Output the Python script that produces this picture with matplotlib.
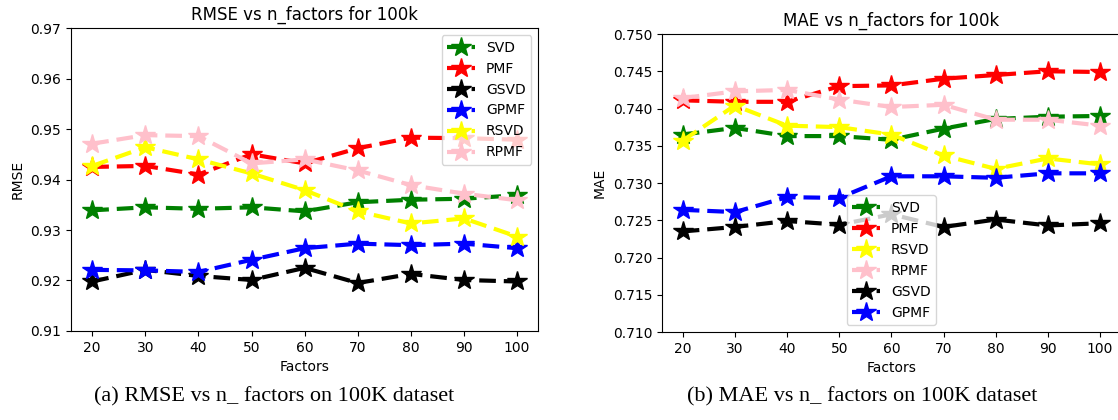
import matplotlib
import matplotlib.pyplot as plt

matplotlib.use("Agg")

factors = [20, 30, 40, 50, 60, 70, 80, 90, 100]

# RMSE on 100k
rmse_svd = [0.9339, 0.9345, 0.9342, 0.9345, 0.9337, 0.9355, 0.9360, 0.9362, 0.9369]
rmse_pmf = [0.9425, 0.9427, 0.9410, 0.9450, 0.9432, 0.9462, 0.9483, 0.9482, 0.9479]
rmse_gsvd = [0.9198, 0.9221, 0.9209, 0.9201, 0.9225, 0.9195, 0.9213, 0.9201, 0.9198]
rmse_gpmf = [0.9221, 0.9220, 0.9217, 0.9241, 0.9264, 0.9273, 0.9270, 0.9273, 0.9264]
rmse_rsvd = [0.9427, 0.9464, 0.9440, 0.9412, 0.9379, 0.9337, 0.9313, 0.9323, 0.9287]
rmse_rpmf = [0.9471, 0.9488, 0.9486, 0.9432, 0.9440, 0.9418, 0.9389, 0.9372, 0.9359]

# MAE on 100k
mae_svd = [0.7365, 0.7374, 0.7363, 0.7363, 0.7358, 0.7373, 0.7386, 0.7389, 0.7390]
mae_pmf = [0.7411, 0.7409, 0.7409, 0.7430, 0.7431, 0.7440, 0.7445, 0.7450, 0.7449]
mae_rsvd = [0.7357, 0.7404, 0.7377, 0.7375, 0.7365, 0.7337, 0.7319, 0.7333, 0.7325]
mae_rpmf = [0.7414, 0.7423, 0.7425, 0.7412, 0.7402, 0.7405, 0.7385, 0.7385, 0.7377]
mae_gsvd = [0.7235, 0.7241, 0.7249, 0.7244, 0.7258, 0.7241, 0.7251, 0.7243, 0.7246]
mae_gpmf = [0.7264, 0.7261, 0.7281, 0.7280, 0.7309, 0.7309, 0.7307, 0.7313, 0.7313]

rmse_series = [
    ("SVD", rmse_svd, "green"),
    ("PMF", rmse_pmf, "red"),
    ("GSVD", rmse_gsvd, "black"),
    ("GPMF", rmse_gpmf, "blue"),
    ("RSVD", rmse_rsvd, "yellow"),
    ("RPMF", rmse_rpmf, "pink"),
]
mae_series = [
    ("SVD", mae_svd, "green"),
    ("PMF", mae_pmf, "red"),
    ("RSVD", mae_rsvd, "yellow"),
    ("RPMF", mae_rpmf, "pink"),
    ("GSVD", mae_gsvd, "black"),
    ("GPMF", mae_gpmf, "blue"),
]

LINE_STYLE = dict(linestyle=(0, (4.0, 1.9)), marker="*", linewidth=3, markersize=15)

fig = plt.figure(figsize=(11.18, 4.2), dpi=100)
ax1 = fig.add_axes([0.0635, 0.212, 0.418, 0.721])
ax2 = fig.add_axes([0.592, 0.2095, 0.4106, 0.7095])

for label, values, color in rmse_series:
    ax1.plot(factors, values, color=color, label=label, **LINE_STYLE)
ax1.set_ylim(0.91, 0.97)
ax1.set_xticks(factors)
ax1.set_title("RMSE vs n_factors for 100k", fontsize=12)
ax1.set_xlabel("Factors", fontsize=10)
ax1.set_ylabel("RMSE", fontsize=10)
ax1.legend(loc="upper right", fontsize=10)

for label, values, color in mae_series:
    ax2.plot(factors, values, color=color, label=label, **LINE_STYLE)
ax2.set_ylim(0.710, 0.750)
ax2.set_yticks([0.710, 0.715, 0.720, 0.725, 0.730, 0.735, 0.740, 0.745, 0.750])
ax2.set_xticks(factors)
ax2.set_title("MAE vs n_factors for 100k", fontsize=12)
ax2.set_xlabel("Factors", fontsize=10)
ax2.set_ylabel("MAE", fontsize=10)
ax2.legend(loc="lower center", fontsize=10)

fig.text(0.084, 0.043, "(a) RMSE vs n_ factors on 100K dataset", family="Liberation Serif", fontsize=16)
fig.text(0.6145, 0.043, "(b) MAE vs n_ factors on 100K dataset", family="Liberation Serif", fontsize=16)

fig.savefig("out.png", dpi=100)
plt.close(fig)
